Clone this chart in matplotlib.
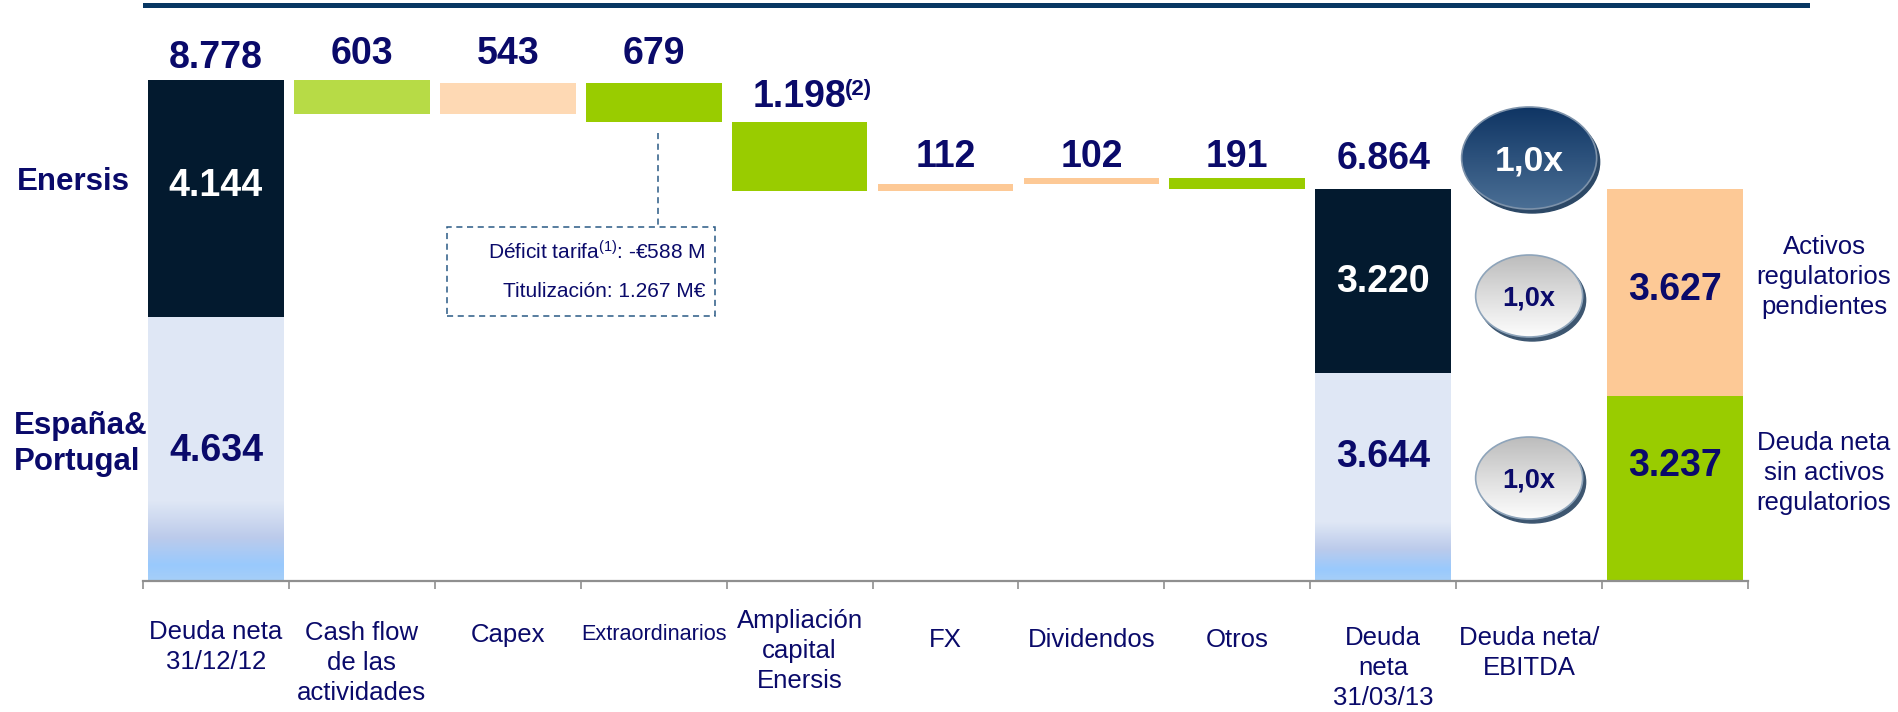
import numpy as np
import matplotlib.pyplot as plt
from matplotlib.patches import Ellipse, Rectangle
from matplotlib.colors import LinearSegmentedColormap
from matplotlib.lines import Line2D

plt.rcParams['font.family'] = ['Liberation Sans', 'DejaVu Sans']
plt.rcParams['mathtext.fontset'] = 'custom'
plt.rcParams['mathtext.rm'] = 'Liberation Sans'
plt.rcParams['mathtext.default'] = 'regular'

# data (M€)
categories = ["Deuda neta\n31/12/12", "Cash flow\nde las\nactividades", "Capex",
              "Extraordinarios", "Ampliación\ncapital\nEnersis", "FX", "Dividendos",
              "Otros", "Deuda\nneta\n31/03/13", "Deuda neta/\nEBITDA", ""]
start_enersis = 4144
start_espana = 4634
steps = [-603, 543, -679, -1198, 112, 102, -191]
step_labels = ["603", "543", "679", "1.198", "112", "102", "191"]
end_enersis = 3220
end_espana = 3644
reg_pending = 3627
reg_free = 3237
ratios = [1.0, 1.0, 1.0]   # total, Enersis, España&Portugal

NAVY = '#0a0a6a'
DARK = '#031a2f'
LIGHT = '#dfe7f5'
GREEN = '#99cc00'
LGREEN = '#b7db46'
PEACH = '#fdc996'
LPEACH = '#fed9b4'
step_colors = [LGREEN, LPEACH, GREEN, GREEN, PEACH, PEACH, GREEN]

PXU = 0.05707   # pixels per M€
W = 0.93


def dx(p):
    return -0.5 + (p - 143) / 145.9


def dy(p):
    return (581 - p) / PXU


def fmt(v):
    return f"{v:,}".replace(",", ".")


def grad_fill(ax, x0, x1, y0, y1, stops, clip=None, z=3):
    cmap = LinearSegmentedColormap.from_list('g', stops)
    g = np.linspace(0, 1, 256).reshape(-1, 1)
    im = ax.imshow(g, cmap=cmap, extent=[x0, x1, y0, y1], aspect='auto',
                   origin='upper', zorder=z, interpolation='bilinear')
    if clip is not None:
        im.set_clip_path(clip)
    return im


light_stops = [(0, LIGHT), (0.45, '#bccbeb'), (0.8, '#99c9fd'), (1.0, '#a6cff8')]

fig = plt.figure(figsize=(18.99, 7.12), dpi=100)
ax = fig.add_axes([143 / 1899, 131 / 712, 1605 / 1899, 581 / 712])

# opening net debt
ax.bar(0, start_espana, width=W, color=LIGHT, zorder=2)
grad_fill(ax, -W / 2, W / 2, 0, start_espana * 0.3, light_stops)
ax.bar(0, start_enersis, bottom=start_espana, width=W, color=DARK, zorder=2)
total0 = start_enersis + start_espana

# waterfall steps
level = total0
tops = []
for i, s in enumerate(steps):
    new = level + s
    lo, hi = min(level, new), max(level, new)
    ax.bar(i + 1, hi - lo, bottom=lo, width=W, color=step_colors[i], zorder=2)
    tops.append(hi)
    level = new

# closing net debt
ax.bar(8, end_espana, width=W, color=LIGHT, zorder=2)
grad_fill(ax, 8 - W / 2, 8 + W / 2, 0, end_espana * 0.28, light_stops)
ax.bar(8, end_enersis, bottom=end_espana, width=W, color=DARK, zorder=2)
total1 = end_enersis + end_espana

# regulatory split
ax.bar(10, reg_free, width=W, color=GREEN, zorder=2)
ax.bar(10, reg_pending, bottom=reg_free, width=W, color=PEACH, zorder=2)

big = dict(color=NAVY, fontsize=27, fontweight='bold', ha='center', va='center_baseline')

# labels above bars
ax.annotate(fmt(total0), (0, total0), xytext=(0, 26.5 * 0.72),
            textcoords='offset points', **big)
offs = [30, 33, 33, 29, 31, 25.5, 25.5]
for i, lab in enumerate(step_labels):
    ax.annotate(lab, (i + 1, tops[i]), xytext=(0, offs[i] * 0.72),
                textcoords='offset points', **big)
ax.text(dx(845), dy(90), "(2)", color=NAVY, fontsize=16, fontweight='bold',
        ha='left', va='center')
ax.annotate(fmt(total1), (8, total1), xytext=(0, 34 * 0.72),
            textcoords='offset points', **big)

# labels inside bars
inner = dict(fontsize=27, fontweight='bold', ha='center', va='center_baseline', zorder=6)
ax.text(0, start_espana + 0.569 * start_enersis, fmt(start_enersis), color='white', **inner)
ax.text(0, 0.507 * start_espana, fmt(start_espana), color=NAVY, **inner)
ax.text(8, end_espana + 0.517 * end_enersis, fmt(end_enersis), color='white', **inner)
ax.text(8, 0.615 * end_espana, fmt(end_espana), color=NAVY, **inner)
ax.text(10, reg_free + 0.533 * reg_pending, fmt(reg_pending), color=NAVY, **inner)
ax.text(10, 0.644 * reg_free, fmt(reg_free), color=NAVY, **inner)

# Deuda neta / EBITDA ellipses
ex = 9


def ratio_bubble(cy_px, w_px, h_px, stops, edge, shadow, txt, tcolor, fs):
    cy = dy(cy_px)
    w = w_px / 145.9
    h = h_px / PXU
    ax.add_patch(Ellipse((ex + 3 / 145.9, cy - 4 / PXU), w, h, color=shadow, zorder=4))
    clip = Ellipse((ex, cy), w, h, transform=ax.transData)
    grad_fill(ax, ex - w / 2, ex + w / 2, cy - h / 2, cy + h / 2, stops, clip=clip, z=5)
    ax.add_patch(Ellipse((ex, cy), w, h, fill=False, edgecolor=edge, lw=1.2, zorder=6))
    ax.text(ex, cy, txt, color=tcolor, fontsize=fs, fontweight='bold',
            ha='center', va='center_baseline', zorder=7)


def rfmt(v):
    return f"{v:.1f}".replace(".", ",") + "x"


ratio_bubble(158, 135, 102, [(0, '#0e3463'), (1, '#4b6f95')], '#7d92aa', '#2c4866',
             rfmt(ratios[0]), 'white', 25.5)
ratio_bubble(296, 107, 82, [(0, '#bcbcbc'), (0.5, '#dedede'), (1, '#fdfdfd')], '#8ea4ba',
             '#3d5670', rfmt(ratios[1]), NAVY, 19.5)
ratio_bubble(478, 107, 82, [(0, '#bcbcbc'), (0.5, '#dedede'), (1, '#fdfdfd')], '#8ea4ba',
             '#3d5670', rfmt(ratios[2]), NAVY, 19.5)

# dashed callout for Extraordinarios
DASH = '#2a5a85'
ax.plot([dx(658), dx(658)], [dy(133), dy(227)], color=DASH, lw=1.1,
        ls=(0, (4, 3)), zorder=3)
ax.add_patch(Rectangle((dx(447), dy(316)), dx(715) - dx(447), dy(227) - dy(316),
                       fill=False, edgecolor=DASH, lw=1.1, ls=(0, (4, 3)), zorder=3))
ax.text(dx(705), dy(250), "Déficit tarifa$^{(1)}$: -€588 M", color=NAVY, fontsize=15,
        ha='right', va='center_baseline')
ax.text(dx(705), dy(290), "Titulización: 1.267 M€", color=NAVY, fontsize=15,
        ha='right', va='center_baseline')

# category labels
label_top = [620, 621, 623, 624, 609, 628, 628, 628, 626, 626, 626]
for i, lab in enumerate(categories):
    fs = 15.6 if lab == "Extraordinarios" else 18.5
    ax.text(i, dy(label_top[i]), lab, color=NAVY, fontsize=fs, ha='center', va='top',
            linespacing=1.32, clip_on=False)

# row labels and right side labels
fig.text(17 / 1899, 1 - 179 / 712, "Enersis", color=NAVY, fontsize=22.5,
         fontweight='bold', ha='left', va='center_baseline')
fig.text(14 / 1899, 1 - 444 / 712, "España&\nPortugal", color=NAVY, fontsize=22.5,
         fontweight='bold', ha='left', va='center', linespacing=1.29)
fig.text(1824 / 1899, 1 - 277 / 712, "Activos\nregulatorios\npendientes", color=NAVY,
         fontsize=18.5, ha='center', va='center', linespacing=1.31)
fig.text(1824 / 1899, 1 - 473 / 712, "Deuda neta\nsin activos\nregulatorios", color=NAVY,
         fontsize=18.5, ha='center', va='center', linespacing=1.31)

# top rule
fig.add_artist(Line2D([145 / 1899, 1807 / 1899], [1 - 4.5 / 712] * 2, color='#073763', lw=3.6))

# axis styling
ax.set_xlim(-0.5, 10.5)
ax.set_ylim(0, 581 / PXU)
for s in ['top', 'left', 'right']:
    ax.spines[s].set_visible(False)
ax.spines['bottom'].set_color('#8f8f8f')
ax.spines['bottom'].set_linewidth(1.6)
ax.spines['bottom'].set_zorder(3)
ax.set_xticks(np.arange(-0.5, 11, 1))
ax.set_xticklabels([])
ax.tick_params(axis='x', direction='out', length=5.5, width=1.2, color='#8f8f8f')
ax.set_yticks([])
ax.patch.set_alpha(0)

fig.savefig('out.png', dpi=100)
